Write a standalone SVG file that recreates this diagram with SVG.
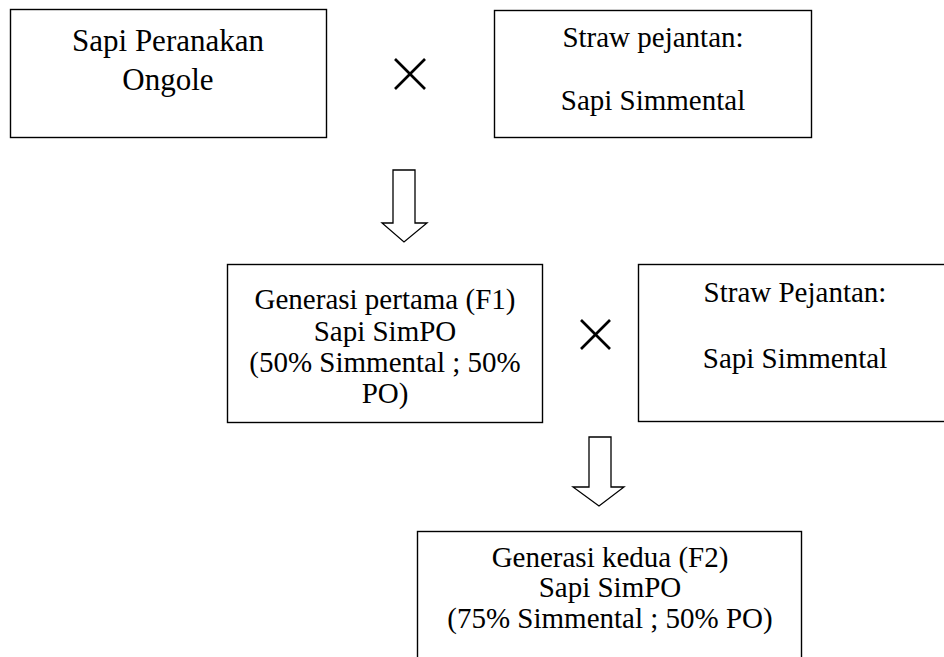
<svg xmlns="http://www.w3.org/2000/svg" width="944" height="657" viewBox="0 0 944 657">
<style>
.box{fill:#fff;stroke:#000;stroke-width:1.4}
.arr{fill:#fff;stroke:#000;stroke-width:1.3;stroke-linejoin:miter}
.x{stroke:#000;stroke-width:2.7;stroke-linecap:butt}
text{font-family:"Liberation Serif","Times New Roman",serif;fill:#000;text-anchor:middle}
.t29{font-size:29px}
.t31{font-size:31px}
</style>
<rect width="944" height="657" fill="#fff"/>
<g id="node-po">
<rect class="box" x="10.5" y="9.5" width="316" height="128"/>
<text class="t31" x="168" y="51">Sapi Peranakan</text>
<text class="t31" x="168" y="90">Ongole</text>
</g>
<g id="node-straw1">
<rect class="box" x="494.5" y="10.5" width="317" height="127"/>
<text class="t29" x="653" y="47">Straw pejantan:</text>
<text class="t29" x="653" y="110">Sapi Simmental</text>
</g>
<g id="node-f1">
<rect class="box" x="227.5" y="264.5" width="315" height="158"/>
<text class="t29" x="385" y="309">Generasi pertama (F1)</text>
<text class="t29" x="385" y="341">Sapi SimPO</text>
<text class="t29" x="385" y="372">(50% Simmental ; 50%</text>
<text class="t29" x="385" y="403">PO)</text>
</g>
<g id="node-straw2">
<rect class="box" x="638.5" y="264.5" width="314" height="157"/>
<text class="t29" x="795" y="302">Straw Pejantan:</text>
<text class="t29" x="795" y="368">Sapi Simmental</text>
</g>
<g id="node-f2">
<rect class="box" x="417.5" y="531.5" width="384" height="140"/>
<text class="t29" x="610" y="567">Generasi kedua (F2)</text>
<text class="t29" x="610" y="597">Sapi SimPO</text>
<text class="t29" x="610" y="628">(75% Simmental ; 50% PO)</text>
</g>
<g id="connectors">
<g id="cross1"><line class="x" x1="395" y1="59" x2="425" y2="89"/><line class="x" x1="425" y1="59" x2="395" y2="89"/></g>
<g id="cross2"><line class="x" x1="581" y1="320" x2="610" y2="349"/><line class="x" x1="610" y1="320" x2="581" y2="349"/></g>
<path class="arr" d="M393,170 L415,170 L415,223 L427,223 L404,242 L382,223 L393,223 Z"/>
<path class="arr" d="M589,437 L611,437 L611,487 L624,487 L599,506 L573,487 L589,487 Z"/>
</g>
</svg>
